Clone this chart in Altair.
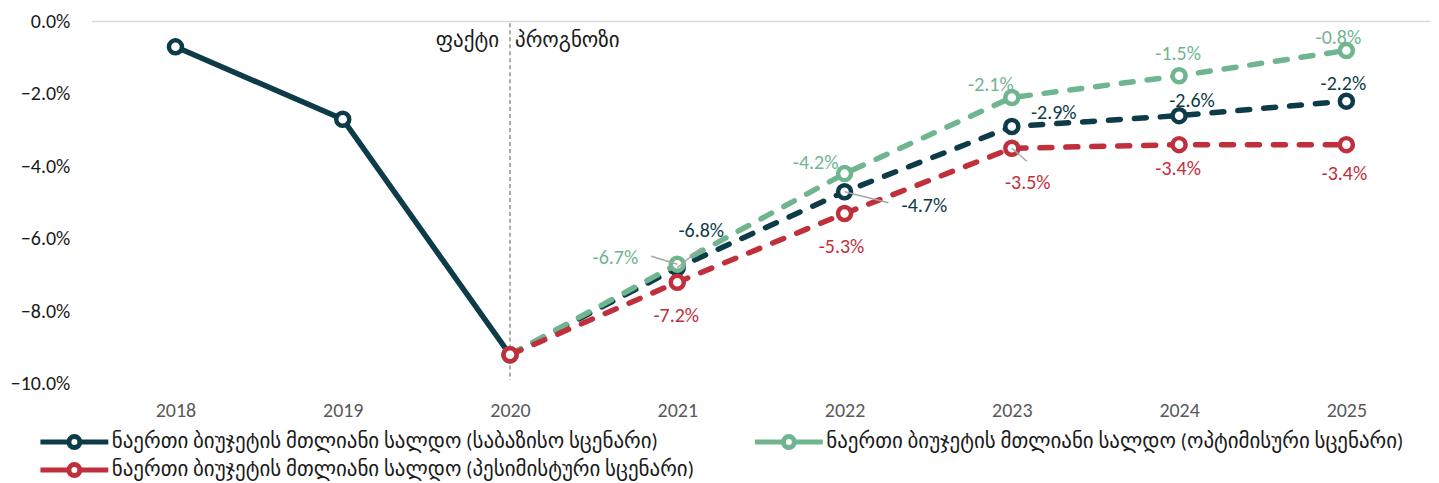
import altair as alt
import pandas as pd

years = ["2018", "2019", "2020", "2021", "2022", "2023", "2024", "2025"]
series_names = [
    "ნაერთი ბიუჯეტის მთლიანი სალდო (საბაზისო სცენარი)",
    "ნაერთი ბიუჯეტის მთლიანი სალდო (ოპტიმისური სცენარი)",
    "ნაერთი ბიუჯეტის მთლიანი სალდო (პესიმისტური სცენარი)",
]
baseline = [-0.7, -2.7, -9.2, -6.8, -4.7, -2.9, -2.6, -2.2]
optimistic = [None, None, -9.2, -6.7, -4.2, -2.1, -1.5, -0.8]
pessimistic = [None, None, -9.2, -7.2, -5.3, -3.5, -3.4, -3.4]
colors = ["#0D3C48", "#6FB58F", "#C0303C"]
fact_label = "ფაქტი"
forecast_label = "პროგნოზი"
y_ticks = [0, -2, -4, -6, -8, -10]

# label layout (pixel offsets, styling only)
base_dx = [None, None, None, 24, 80, 42, 13, -3]
base_dy = [None, None, None, -37, 14, -14, -15, -17]
opt_dx = [None, None, None, -62, -29, -21, -1, -8]
opt_dy = [None, None, None, -6, -11, -13, -22, -12]
pes_dx = [None, None, None, -1, -3, 16, -1, -2]
pes_dy = [None, None, None, 34, 34, 35, 24, 29]

rows = []
for vals, name in [(baseline, series_names[0]), (optimistic, series_names[1]),
                   (pessimistic, series_names[2])]:
    for y, v in zip(years, vals):
        if v is not None:
            rows.append({"year": y, "value": v, "series": name, "label": f"{v:.1f}%"})
df = pd.DataFrame(rows)

FONT = "Calibri, Carlito, Lato, DejaVu Sans"
GFONT = "Calibri, Lato, DejaVu Sans"
W, H = 1341, 363

xscale = alt.Scale(type="point", padding=0.5, domain=years)
xenc = alt.X("year:N", scale=xscale,
             axis=alt.Axis(title=None, labelAngle=0, ticks=False, domain=False, labelAlign="center",
                           labelFontSize=20, labelColor="#595959", labelFont=FONT,
                           labelPadding=27))
yscale = alt.Scale(domain=[-10, 0], nice=False, zero=False)
yenc = alt.Y("value:Q", scale=yscale,
             axis=alt.Axis(title=None, values=y_ticks, grid=False, ticks=False, domain=False,
                           labelExpr="format(datum.value, '.1f') + '%'",
                           labelFontSize=20, labelColor="#1a1a1a", labelFont=FONT,
                           labelPadding=22, minExtent=84, maxExtent=84))

legend_path = "M-3.4,0H-0.55M0.55,0H3.4M-0.55,0A0.55,0.55,0,1,1,0.55,0A0.55,0.55,0,1,1,-0.55,0"

legend = alt.Legend(
    title=None, orient="none", legendX=-30, legendY=409, direction="horizontal",
    columns=2, columnPadding=50, rowPadding=-6,
    symbolType=legend_path, symbolSize=400, symbolStrokeWidth=5,
    symbolFillColor="white",
    labelFont=GFONT, labelFontSize=21, labelColor="#1a1a1a", labelLimit=900,
    labelOffset=25,
)
cenc = alt.Color("series:N", scale=alt.Scale(domain=series_names, range=colors), legend=legend)

base = alt.Chart(df)

top_rule = alt.Chart(pd.DataFrame({"v": [0]})).mark_rule(color="#d9d9d9", strokeWidth=1.5).encode(
    y=alt.Y("v:Q", scale=yscale))

vline = alt.Chart(pd.DataFrame({"year": ["2020"], "a": [-0.05], "b": [-9.9]})).mark_rule(
    color="#7f7f7f", strokeWidth=1.3, strokeDash=[4, 3]).encode(
    x=alt.X("year:N", scale=xscale),
    y=alt.Y("a:Q", scale=yscale), y2="b:Q")

txt_df = pd.DataFrame({"year": ["2020"], "v": [-0.55]})
fact = alt.Chart(txt_df).mark_text(align="right", dx=-11, fontSize=21, font=GFONT, color="#1a1a1a").encode(
    x=alt.X("year:N", scale=xscale),
    y=alt.Y("v:Q", scale=yscale), text=alt.value(fact_label))
fore = alt.Chart(txt_df).mark_text(align="left", dx=5, fontSize=21, font=GFONT, color="#1a1a1a").encode(
    x=alt.X("year:N", scale=xscale),
    y=alt.Y("v:Q", scale=yscale), text=alt.value(forecast_label))

layers = [top_rule, vline, fact, fore]

LW = 5.5
DASH = [12, 14]
for i, name in enumerate(series_names):
    sub = base.transform_filter(alt.datum.series == name)
    if i == 0:
        layers.append(sub.transform_filter("toNumber(datum.year) <= 2020").mark_line(
            strokeWidth=LW, strokeCap="round").encode(x=xenc, y=yenc, color=cenc))
        layers.append(sub.transform_filter("toNumber(datum.year) >= 2020").mark_line(
            strokeWidth=LW, strokeDash=DASH, strokeCap="round").encode(x=xenc, y=yenc, color=cenc))
    else:
        layers.append(sub.mark_line(strokeWidth=LW, strokeDash=DASH, strokeCap="round").encode(
            x=xenc, y=yenc, color=cenc))
    layers.append(sub.mark_point(filled=False, size=170, strokeWidth=4.5, fill="white", opacity=1).encode(
        x=xenc, y=yenc, color=cenc))

# leader lines
leaders = [
    (series_names[0], "2021", 24, -20),
    (series_names[0], "2022", 44, 11),
    (series_names[1], "2021", -26, -8),
    (series_names[2], "2023", 15, 13),
]
for name, yr, ox, oy in leaders:
    layers.append(base.transform_filter((alt.datum.series == name) & (alt.datum.year == yr)).mark_rule(
        color="#a6a6a6", strokeWidth=1.5, x2Offset=ox, y2Offset=oy).encode(
        x=xenc, y=yenc, x2="year:N", y2="value:Q"))

for i, (name, dxs, dys) in enumerate([(series_names[0], base_dx, base_dy),
                                       (series_names[1], opt_dx, opt_dy),
                                       (series_names[2], pes_dx, pes_dy)]):
    for yr, dx, dy in zip(years, dxs, dys):
        if dx is None:
            continue
        layers.append(base.transform_filter((alt.datum.series == name) & (alt.datum.year == yr)).mark_text(
            fontSize=20, font=FONT, color=colors[i], dx=dx, dy=dy).encode(
            x=xenc, y=yenc, text="label:N"))

chart = alt.layer(*layers).properties(
    width=W, height=H, background="white",
    padding={"left": 0, "top": 3, "right": 0, "bottom": 0}
).configure_view(stroke=None)

chart.save("out.html", embed_options={"renderer": "svg", "actions": False})
